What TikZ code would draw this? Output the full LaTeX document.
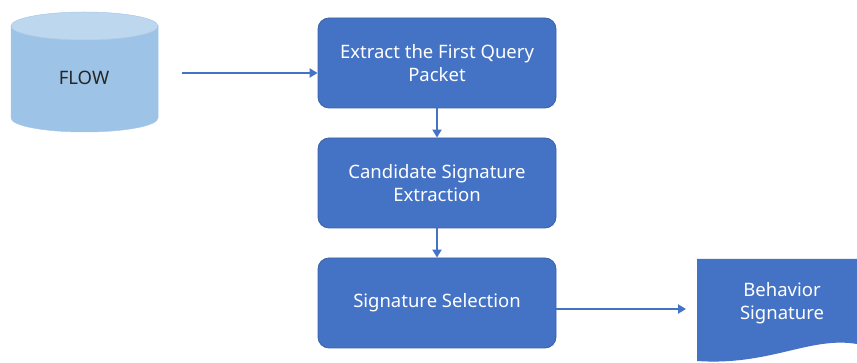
\documentclass[tikz,border=0pt]{standalone}
\usepackage{fontspec}
\setmainfont{Noto Sans}
\usetikzlibrary{arrows.meta}
\definecolor{boxblue}{HTML}{4472C4}
\definecolor{boxedge}{HTML}{3A62A8}
\definecolor{cylfill}{HTML}{9DC3E6}
\definecolor{cyltop}{HTML}{BDD7EE}
\definecolor{cyledge}{HTML}{A9C8E8}
\tikzset{
  stepbox/.style={draw=boxedge, line width=0.8pt, fill=boxblue, rounded corners=11pt,
    minimum width=238pt, minimum height=90pt, inner sep=0pt, align=center,
    text=white, font=\fontsize{18.5}{22.5}\selectfont},
  conn/.style={draw=boxblue, line width=2.4pt, -{Triangle[length=8pt,width=9pt]}},
  lbl/.style={font=\fontsize{18.5}{22.5}\selectfont, align=center, inner sep=0pt}
}
\begin{document}
\begin{tikzpicture}[x=1pt,y=-1pt]
\useasboundingbox (0,0) rectangle (857,363);
% cylinder
\fill[cylfill, draw=cyledge, line width=0.5pt] (11,26) -- (11,118) arc[start angle=180, end angle=0, x radius=73.5, y radius=14] -- (158,26) arc[start angle=0, end angle=180, x radius=73.5, y radius=14] -- cycle;
\fill[cyltop, draw=cyledge, line width=0.5pt] (84.5,26) ellipse[x radius=73.5, y radius=14];
\node[lbl, text=black!85] (flow) at (84,78) {FLOW};
\coordinate (flowout) at (182,73);
% boxes
\node[stepbox] (b1) at (437,63) {Extract the First Query\\Packet};
\node[stepbox] (b2) at (437,183) {Candidate Signature\\Extraction};
\node[stepbox] (b3) at (437,303) {Signature Selection};
% document
\fill[boxblue] (697,259) -- (857,259) -- (857,344) .. controls (810,336) and (770,366) .. (697,361) -- cycle;
\node[lbl, text=white] (doc) at (782,303) {Behavior\\Signature};
\coordinate (docin) at (686,309);
% connectors
\draw[conn] (flowout) -- (b1.west |- flowout);
\draw[conn] (b1.south) -- (b2.north);
\draw[conn] (b2.south) -- (b3.north);
\draw[conn] (b3.east |- docin) -- (docin);
\end{tikzpicture}
\end{document}
